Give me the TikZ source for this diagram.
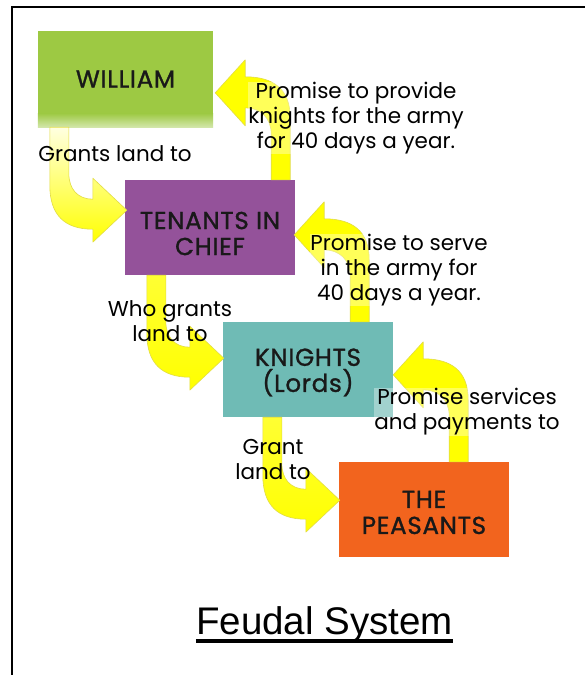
\documentclass[tikz,border=0pt]{standalone}
\usepackage{fontspec}
\setmainfont{Poppins}
\newfontfamily\boxfont{Poppins}[FakeBold=1.2,LetterSpace=3]
\newfontfamily\lblfont{Poppins}
\newfontfamily\titlefont{Liberation Sans}
\usetikzlibrary{calc}
\definecolor{wgreen}{RGB}{157,201,67}
\definecolor{tpurple}{RGB}{148,82,154}
\definecolor{kteal}{RGB}{111,187,181}
\definecolor{porange}{RGB}{242,100,30}
\definecolor{txt}{RGB}{25,25,25}
\definecolor{arrowedge}{RGB}{225,220,70}
\tikzset{
 box/.style={rectangle, minimum width=170pt, minimum height=95pt, inner sep=0pt},
 boxtxt/.style={align=center, inner sep=0pt, text=txt, font=\boxfont\fontsize{24.5}{26}\selectfont},
 lbl/.style={align=center, inner sep=0.5pt, text=black, font=\lblfont\fontsize{21.5}{25}\selectfont},
 halo/.style={fill=white, fill opacity=0.35, text opacity=1},
 arr/.style={draw=arrowedge, line width=0.6pt, line join=round},
 downarr/.pic={\shadedraw[arr, top color=yellow!12, bottom color=yellow]
   (0,0) -- (0,58) .. controls (0,88) and (15,102) .. (43,102) -- (43,115) -- (77,83) -- (43,51) -- (43,72)
   .. controls (28,72) and (19,62) .. (19,46) -- (19,0) -- cycle;},
 downarrb/.pic={\shadedraw[arr, top color=yellow!80, middle color=yellow!35, bottom color=yellow]
   (0,0) -- (0,58) .. controls (0,88) and (15,102) .. (43,102) -- (43,115) -- (77,83) -- (43,51) -- (43,72)
   .. controls (28,72) and (19,62) .. (19,46) -- (19,0) -- cycle;},
 uparr/.pic={\shadedraw[arr, top color=yellow, middle color=yellow!45, bottom color=yellow]
   (0,0) -- (0,-62) .. controls (0,-91) and (-17,-103) .. (-45,-103) -- (-45,-120) -- (-75,-87) -- (-45,-54) -- (-45,-72)
   .. controls (-30,-72) and (-19,-62) .. (-19,-46) -- (-19,0) -- cycle;},
}
\begin{document}
\begin{tikzpicture}[x=1pt,y=-1pt]
\useasboundingbox (0,0) rectangle (585,675);
\fill[white] (0,0) rectangle (585,675);
% frame
\coordinate (fbl) at (12,675);
\coordinate (ftl) at (12,7);
\coordinate (ftr) at (585,7);
\draw[line width=2pt] (fbl) -- (ftl) -- (ftr);
% boxes
\node[box, fill=wgreen, minimum width=175pt, minimum height=96pt] (william) at (125.5,79) {};
\shade[top color=wgreen, bottom color=wgreen!45!white] ($(william.south west)+(0,-14)$) rectangle (william.south east);
\node[box, fill=tpurple] (tenants) at (210,227.5) {};
\node[box, fill=kteal] (knights) at (308,369.5) {};
\node[box, fill=porange] (peasants) at (424,509.5) {};
\node[boxtxt] (williamT) at ($(william.center)+(0,0)$) {WILLIAM};
\node[boxtxt] (tenantsT) at ($(tenants.center)+(0,6)$) {TENANTS IN\\CHIEF};
\node[boxtxt] (knightsT) at ($(knights.center)+(0,3)$) {KNIGHTS\\(Lords)};
\node[boxtxt] (peasantsT) at ($(peasants.center)+(0,3)$) {THE\\PEASANTS};
% arrows
\pic at ($(william.south west)+(12,0)$) {downarr};
\pic at ($(tenants.south west)+(22,0)$) {downarrb};
\pic at ($(knights.south west)+(40,0)$) {downarrb};
\pic at ($(tenants.north east)+(-5,0)$) {uparr};
\pic at ($(knights.north east)+(-24,0)$) {uparr};
\pic at ($(peasants.north east)+(-41,0)$) {uparr};
% labels
\node[lbl] (l1) at (115,154) {Grants land to};
\node[lbl, halo] (l2) at (356,118) {Promise to provide\\knights for the army\\for 40 days a year.};
\node[lbl, halo] (l3) at (399,270) {Promise to serve\\in the army for\\40 days a year.};
\node[lbl] (l4) at (170,321) {Who grants\\land to};
\node[lbl, halo] (l5) at (467,412) {Promise services\\and payments to};
\node[lbl] (l6) at (273,460) {Grant\\land to};
% title
\node[inner sep=0pt, anchor=base, font=\titlefont\fontsize{38.5}{40}\selectfont] (title) at (324.5,634) {Feudal System};
\draw[line width=3.5pt] ([yshift=-7pt]title.base west) -- ([yshift=-7pt]title.base east);
\end{tikzpicture}
\end{document}
